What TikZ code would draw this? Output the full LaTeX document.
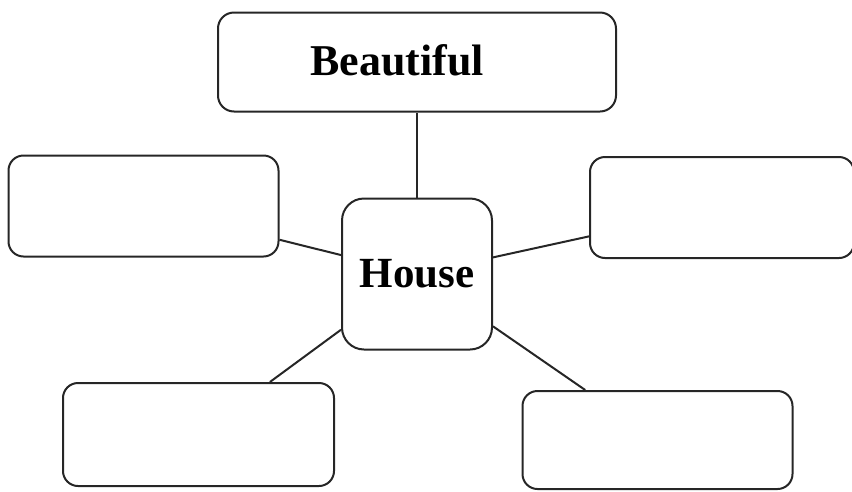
\documentclass[tikz,border=0pt]{standalone}
\usepackage{fontspec}
\setmainfont{Liberation Serif}

\begin{document}
\begin{tikzpicture}[x=1pt,y=-1pt,line width=2pt,draw=black!85,
    word node/.style={rectangle,draw,rounded corners=16pt,minimum width=398pt,minimum height=99pt,inner sep=0pt,font=\bfseries\fontsize{44}{50}\selectfont},
    hub node/.style={rectangle,draw,rounded corners=22pt,minimum width=150pt,minimum height=151pt,inner sep=0pt,font=\bfseries\fontsize{43}{50}\selectfont},
    blank node/.style={rectangle,draw,rounded corners=15pt,minimum width=270pt,minimum height=101pt}]

            \useasboundingbox (0,0) rectangle (852,491);

            \node[hub node] (1) at (417,274) {\raisebox{-2pt}{House}};

            \node[word node] (2) at (417,62) {\raisebox{4pt}{Beautiful}\hspace*{40pt}};
            \node[blank node] (3) at (143.5,206) {};
            \node[blank node, minimum width=264pt] (4) at (722,207.5) {};
            \node[blank node, minimum width=271pt, minimum height=103pt] (5) at (198.5,434.5) {};
            \node[blank node, minimum height=98pt] (6) at (657.5,440) {};

            \path
                (1) edge (2)
                (1) edge (3)
                (1) edge (4)
                (1) edge (5)
                (1) edge (6)
                ;
                    \end{tikzpicture}
\end{document}
